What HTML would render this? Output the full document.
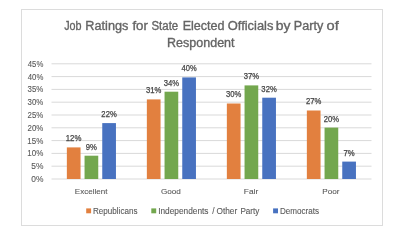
<!DOCTYPE html>
<html><head><meta charset="utf-8"><style>
html,body{margin:0;padding:0;background:#fff;width:410px;height:246px;overflow:hidden}
svg{display:block;filter:blur(0.35px)}
text{font-family:"Liberation Sans",sans-serif;fill:#595959;stroke:#595959;stroke-width:0.1px}
.title{font-size:12.5px;stroke-width:0.35px;fill:#646464;stroke:#646464}
.ax{font-size:8.4px;fill:#595959}
.dl{font-size:8.2px;fill:#454545;stroke:#454545;stroke-width:0.25px}
.cat{font-size:7.8px;fill:#595959}
.leg{font-size:8.2px;fill:#595959}
</style></head><body>
<svg width="410" height="246" viewBox="0 0 410 246">
<rect x="21.5" y="9.5" width="361" height="216" fill="#fff" stroke="#dcdcdc" stroke-width="1"/>
<line x1="51.5" y1="179.00" x2="371.5" y2="179.00" stroke="#d9d9d9" stroke-width="1"/>
<line x1="51.5" y1="166.20" x2="371.5" y2="166.20" stroke="#d9d9d9" stroke-width="1"/>
<line x1="51.5" y1="153.40" x2="371.5" y2="153.40" stroke="#d9d9d9" stroke-width="1"/>
<line x1="51.5" y1="140.60" x2="371.5" y2="140.60" stroke="#d9d9d9" stroke-width="1"/>
<line x1="51.5" y1="127.80" x2="371.5" y2="127.80" stroke="#d9d9d9" stroke-width="1"/>
<line x1="51.5" y1="115.00" x2="371.5" y2="115.00" stroke="#d9d9d9" stroke-width="1"/>
<line x1="51.5" y1="102.20" x2="371.5" y2="102.20" stroke="#d9d9d9" stroke-width="1"/>
<line x1="51.5" y1="89.40" x2="371.5" y2="89.40" stroke="#d9d9d9" stroke-width="1"/>
<line x1="51.5" y1="76.60" x2="371.5" y2="76.60" stroke="#d9d9d9" stroke-width="1"/>
<line x1="51.5" y1="63.80" x2="371.5" y2="63.80" stroke="#d9d9d9" stroke-width="1"/>
<rect x="66.85" y="147.40" width="13.7" height="31.60" fill="#E2803F"/>
<rect x="84.55" y="155.70" width="13.7" height="23.30" fill="#73A74E"/>
<rect x="102.25" y="123.10" width="13.7" height="55.90" fill="#4872C0"/>
<rect x="146.85" y="99.40" width="13.7" height="79.60" fill="#E2803F"/>
<rect x="164.55" y="91.70" width="13.7" height="87.30" fill="#73A74E"/>
<rect x="182.25" y="77.40" width="13.7" height="101.60" fill="#4872C0"/>
<rect x="226.85" y="103.50" width="13.7" height="75.50" fill="#E2803F"/>
<rect x="244.55" y="85.40" width="13.7" height="93.60" fill="#73A74E"/>
<rect x="262.25" y="97.70" width="13.7" height="81.30" fill="#4872C0"/>
<rect x="306.85" y="110.50" width="13.7" height="68.50" fill="#E2803F"/>
<rect x="324.55" y="127.60" width="13.7" height="51.40" fill="#73A74E"/>
<rect x="342.25" y="161.60" width="13.7" height="17.40" fill="#4872C0"/>
<text x="64.18" y="29.60" class="title" textLength="17.37" lengthAdjust="spacingAndGlyphs">Job</text>
<text x="85.39" y="29.60" class="title" textLength="43.01" lengthAdjust="spacingAndGlyphs">Ratings</text>
<text x="132.40" y="29.60" class="title" textLength="15.50" lengthAdjust="spacingAndGlyphs">for</text>
<text x="151.44" y="29.60" class="title" textLength="26.76" lengthAdjust="spacingAndGlyphs">State</text>
<text x="182.69" y="29.60" class="title" textLength="41.91" lengthAdjust="spacingAndGlyphs">Elected</text>
<text x="227.78" y="29.60" class="title" textLength="45.62" lengthAdjust="spacingAndGlyphs">Officials</text>
<text x="275.77" y="29.60" class="title" textLength="14.68" lengthAdjust="spacingAndGlyphs">by</text>
<text x="293.89" y="29.60" class="title" textLength="29.45" lengthAdjust="spacingAndGlyphs">Party</text>
<text x="326.52" y="29.60" class="title" textLength="12.21" lengthAdjust="spacingAndGlyphs">of</text>
<text x="167.10" y="47.10" class="title" textLength="67.42" lengthAdjust="spacingAndGlyphs">Respondent</text>
<text x="74.88" y="194.00" class="cat" textLength="32.60" lengthAdjust="spacingAndGlyphs">Excellent</text>
<text x="160.94" y="194.00" class="cat" textLength="19.90" lengthAdjust="spacingAndGlyphs">Good</text>
<text x="243.87" y="194.00" class="cat" textLength="14.37" lengthAdjust="spacingAndGlyphs">Fair</text>
<text x="322.28" y="194.00" class="cat" textLength="17.21" lengthAdjust="spacingAndGlyphs">Poor</text>
<text x="93.01" y="214.00" class="leg" textLength="44.45" lengthAdjust="spacingAndGlyphs">Republicans</text>
<text x="158.19" y="214.00" class="leg" textLength="50.33" lengthAdjust="spacingAndGlyphs">Independents</text>
<text x="212.27" y="214.00" class="leg">/</text>
<text x="216.45" y="214.00" class="leg" textLength="20.74" lengthAdjust="spacingAndGlyphs">Other</text>
<text x="240.40" y="214.00" class="leg" textLength="18.97" lengthAdjust="spacingAndGlyphs">Party</text>
<text x="280.01" y="214.00" class="leg" textLength="39.09" lengthAdjust="spacingAndGlyphs">Democrats</text>
<text x="31.25" y="182.00" class="ax" textLength="12.16" lengthAdjust="spacingAndGlyphs">0%</text>
<text x="31.25" y="169.20" class="ax" textLength="12.16" lengthAdjust="spacingAndGlyphs">5%</text>
<text x="27.32" y="156.40" class="ax" textLength="15.99" lengthAdjust="spacingAndGlyphs">10%</text>
<text x="27.32" y="143.60" class="ax" textLength="15.99" lengthAdjust="spacingAndGlyphs">15%</text>
<text x="27.57" y="130.80" class="ax" textLength="15.75" lengthAdjust="spacingAndGlyphs">20%</text>
<text x="27.57" y="118.00" class="ax" textLength="15.75" lengthAdjust="spacingAndGlyphs">25%</text>
<text x="27.57" y="105.20" class="ax" textLength="15.75" lengthAdjust="spacingAndGlyphs">30%</text>
<text x="27.57" y="92.40" class="ax" textLength="15.75" lengthAdjust="spacingAndGlyphs">35%</text>
<text x="27.80" y="79.60" class="ax" textLength="15.51" lengthAdjust="spacingAndGlyphs">40%</text>
<text x="27.80" y="66.80" class="ax" textLength="15.51" lengthAdjust="spacingAndGlyphs">45%</text>
<text x="65.72" y="141.30" class="dl" textLength="15.61" lengthAdjust="spacingAndGlyphs">12%</text>
<text x="85.71" y="149.60" class="dl" textLength="11.23" lengthAdjust="spacingAndGlyphs">9%</text>
<text x="101.37" y="117.00" class="dl" textLength="15.37" lengthAdjust="spacingAndGlyphs">22%</text>
<text x="145.97" y="93.30" class="dl" textLength="15.37" lengthAdjust="spacingAndGlyphs">31%</text>
<text x="163.67" y="85.60" class="dl" textLength="15.37" lengthAdjust="spacingAndGlyphs">34%</text>
<text x="181.60" y="71.30" class="dl" textLength="15.13" lengthAdjust="spacingAndGlyphs">40%</text>
<text x="225.97" y="97.40" class="dl" textLength="15.37" lengthAdjust="spacingAndGlyphs">30%</text>
<text x="243.67" y="79.30" class="dl" textLength="15.37" lengthAdjust="spacingAndGlyphs">37%</text>
<text x="261.37" y="91.60" class="dl" textLength="15.37" lengthAdjust="spacingAndGlyphs">32%</text>
<text x="305.97" y="104.40" class="dl" textLength="15.37" lengthAdjust="spacingAndGlyphs">27%</text>
<text x="323.67" y="121.50" class="dl" textLength="15.37" lengthAdjust="spacingAndGlyphs">20%</text>
<text x="343.41" y="155.50" class="dl" textLength="11.23" lengthAdjust="spacingAndGlyphs">7%</text>
<rect x="86.2" y="208.4" width="4.9" height="4.9" fill="#E2803F"/>
<rect x="151.3" y="208.4" width="4.9" height="4.9" fill="#73A74E"/>
<rect x="273.1" y="208.4" width="4.9" height="4.9" fill="#4872C0"/>
</svg>
</body></html>
